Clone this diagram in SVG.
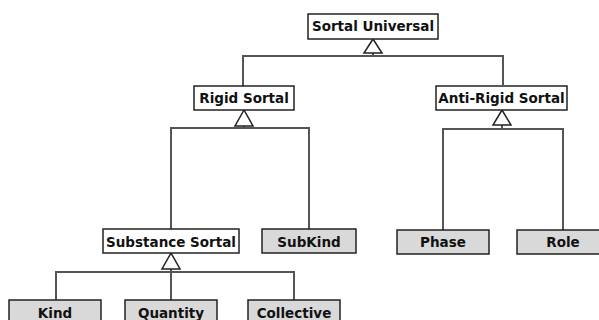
<svg xmlns="http://www.w3.org/2000/svg" width="599" height="320" viewBox="0 0 599 320">
  <style>
    .box { stroke: #222; stroke-width: 1.5; }
    .plain { fill: #ffffff; }
    .filled { fill: #d9d9d9; }
    .label { font-family: "DejaVu Sans", Verdana, sans-serif; font-weight: bold; font-size: 13.5px; fill: #111; text-anchor: middle; }
    .wire { fill: none; stroke: #555; stroke-width: 2; }
    .gen { fill: #ffffff; stroke: #222; stroke-width: 1.5; }
  </style>
  <rect width="599" height="320" fill="#ffffff"/>

  <g id="connectors">
    <!-- Sortal Universal specialisations -->
    <path class="wire" d="M373 53 V56 M243 86 V56 H503 V85"/>
    <polygon class="gen" points="373,39 364,53 382,53"/>
    <!-- Rigid Sortal specialisations -->
    <path class="wire" d="M244 126 V128 M171 229 V128 H309 V229"/>
    <polygon class="gen" points="244,110 235,126 253,126"/>
    <!-- Anti-Rigid Sortal specialisations -->
    <path class="wire" d="M502 125 V129 M443 230 V129 H563 V230"/>
    <polygon class="gen" points="502,110 493,125 511,125"/>
    <!-- Substance Sortal specialisations -->
    <path class="wire" d="M171 269 V272 M56 300 V272 H294 V300 M171 272 V300"/>
    <polygon class="gen" points="171,253 162,269 180,269"/>
  </g>

  <g id="sortal-universal">
    <rect class="box plain" x="308" y="14" width="130" height="25"/>
    <text class="label" x="373" y="31">Sortal Universal</text>
  </g>
  <g id="rigid-sortal">
    <rect class="box plain" x="194" y="86" width="100" height="24"/>
    <text class="label" x="244" y="103">Rigid Sortal</text>
  </g>
  <g id="anti-rigid-sortal">
    <rect class="box plain" x="436" y="86" width="131" height="24"/>
    <text class="label" x="501.5" y="103">Anti-Rigid Sortal</text>
  </g>
  <g id="substance-sortal">
    <rect class="box plain" x="103" y="229" width="136" height="24"/>
    <text class="label" x="171" y="246.5">Substance Sortal</text>
  </g>
  <g id="subkind">
    <rect class="box filled" x="262" y="229" width="94" height="24"/>
    <text class="label" x="309" y="246.5">SubKind</text>
  </g>
  <g id="phase">
    <rect class="box filled" x="397" y="230" width="92" height="24"/>
    <text class="label" x="443" y="246.5">Phase</text>
  </g>
  <g id="role">
    <rect class="box filled" x="517" y="230" width="92" height="24"/>
    <text class="label" x="563" y="246.5">Role</text>
  </g>
  <g id="kind">
    <rect class="box filled" x="9" y="300" width="92" height="24"/>
    <text class="label" x="55" y="317.5">Kind</text>
  </g>
  <g id="quantity">
    <rect class="box filled" x="125" y="300" width="92" height="24"/>
    <text class="label" x="171" y="317.5">Quantity</text>
  </g>
  <g id="collective">
    <rect class="box filled" x="248" y="300" width="92" height="24"/>
    <text class="label" x="294" y="317.5">Collective</text>
  </g>
</svg>
